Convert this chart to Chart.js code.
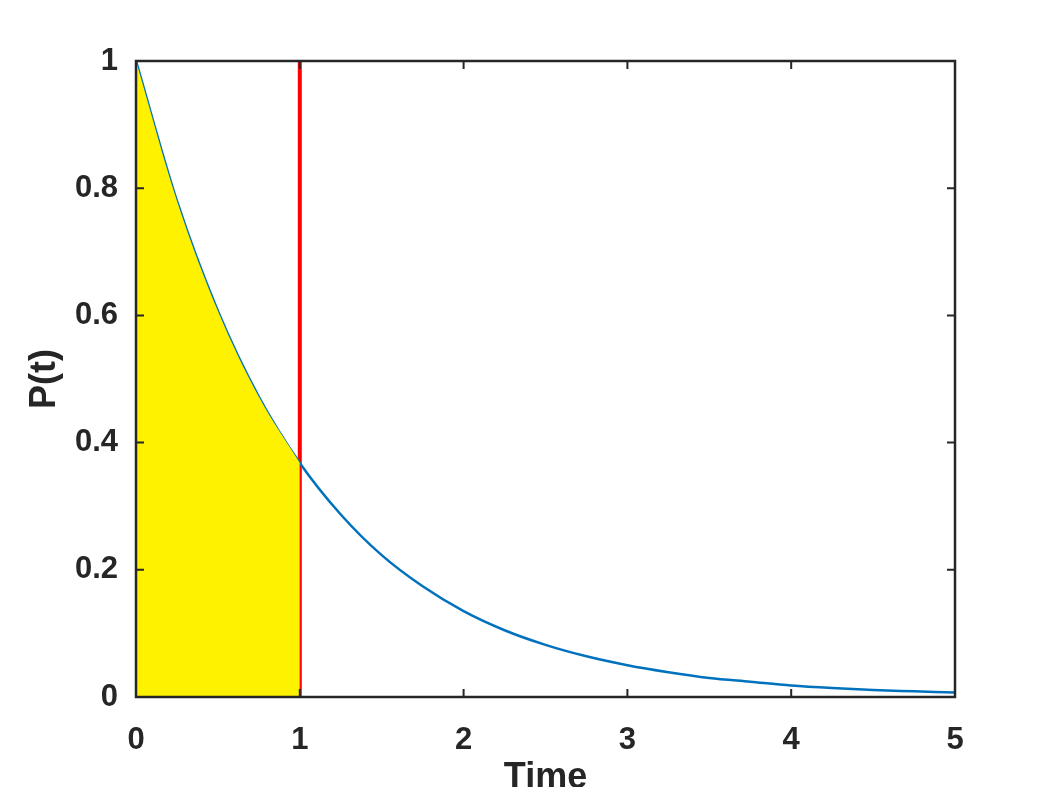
<!DOCTYPE html>
<html>
<head>
<meta charset="utf-8">
<script src="https://cdn.jsdelivr.net/npm/chart.js@4"></script>
<style>
  html, body { margin: 0; padding: 0; background: #fff; }
  #wrap { width: 1055px; height: 787px; }
</style>
</head>
<body>
<div id="wrap"><canvas id="myChart"></canvas></div>
<script>
// values
const timePoints = [0, 0.25, 0.5, 0.75, 1, 1.25, 1.5, 1.75, 2, 2.25, 2.5, 2.75, 3, 3.25, 3.5, 3.75, 4, 4.25, 4.5, 4.75, 5];
const probValues = [1, 0.78, 0.607, 0.472, 0.368, 0.287, 0.223, 0.174, 0.135, 0.105, 0.082, 0.064, 0.05, 0.039, 0.030, 0.024, 0.018, 0.014, 0.011, 0.009, 0.007];
const shadeEnd = 1;
const xTicks = [0, 1, 2, 3, 4, 5];
const yTicks = [0, 0.2, 0.4, 0.6, 0.8, 1];

const curve = timePoints.map((t, i) => ({ x: t, y: probValues[i] }));
const shaded = curve.filter(p => p.x <= shadeEnd);
const marker = [{ x: shadeEnd, y: 0 }, { x: shadeEnd, y: 1 }];

const font = 'Liberation Sans, Arial, Helvetica, sans-serif';
const ink = '#262626';

// MATLAB-like box with inward ticks
const boxPlugin = {
    id: 'box',
    afterDatasetsDraw(chart) {
        const { ctx, chartArea: a, scales } = chart;
        const len = 8;
        ctx.save();
        ctx.strokeStyle = ink;
        ctx.lineWidth = 2;
        ctx.beginPath();
        xTicks.forEach(v => {
            const px = scales.x.getPixelForValue(v);
            ctx.moveTo(px, a.bottom); ctx.lineTo(px, a.bottom - len);
            ctx.moveTo(px, a.top); ctx.lineTo(px, a.top + len);
        });
        yTicks.forEach(v => {
            const py = scales.y.getPixelForValue(v);
            ctx.moveTo(a.left, py); ctx.lineTo(a.left + len, py);
            ctx.moveTo(a.right, py); ctx.lineTo(a.right - len, py);
        });
        ctx.stroke();
        ctx.lineWidth = 2.5;
        ctx.strokeRect(a.left, a.top, a.right - a.left, a.bottom - a.top);
        ctx.restore();
    }
};

const ctx = document.getElementById('myChart').getContext('2d');
new Chart(ctx, {
    type: 'line',
    data: {
        datasets: [
            {
                data: shaded,
                borderWidth: 0,
                pointRadius: 0,
                backgroundColor: '#fff200',
                fill: 'origin',
                cubicInterpolationMode: 'monotone'
            },
            {
                data: curve,
                borderColor: '#0072bd',
                borderWidth: 2.5,
                pointRadius: 0,
                fill: false,
                cubicInterpolationMode: 'monotone'
            },
            {
                data: marker,
                borderColor: '#ff0000',
                borderWidth: 4,
                pointRadius: 0,
                fill: false
            }
        ]
    },
    options: {
        responsive: true,
        maintainAspectRatio: false,
        animation: false,
        layout: { padding: { top: 61, right: 100, left: 0, bottom: 0 } },
        plugins: { legend: { display: false }, tooltip: { enabled: false } },
        scales: {
            x: {
                type: 'linear',
                min: 0,
                max: 5,
                afterFit: s => { s.height = 90; },
                afterBuildTicks: s => { s.ticks = xTicks.map(v => ({ value: v })); },
                grid: { display: false, drawTicks: false },
                border: { display: false },
                ticks: { color: ink, padding: 25, font: { family: font, size: 31, weight: 'bold' } },
                title: {
                    display: true,
                    text: 'Time',
                    color: ink,
                    padding: { top: 0, bottom: -13 },
                    font: { family: font, size: 36, weight: 'bold' }
                }
            },
            y: {
                type: 'linear',
                min: 0,
                max: 1,
                afterFit: s => { s.width = 136; },
                afterBuildTicks: s => { s.ticks = yTicks.map(v => ({ value: v })); },
                grid: { display: false, drawTicks: false },
                border: { display: false },
                ticks: {
                    color: ink,
                    padding: 18,
                    font: { family: font, size: 31, weight: 'bold' },
                    callback: v => String(+v.toFixed(1))
                },
                title: {
                    display: true,
                    text: 'P(t)',
                    color: ink,
                    padding: { top: 23, bottom: 0 },
                    font: { family: font, size: 36, weight: 'bold' }
                }
            }
        }
    },
    plugins: [boxPlugin]
});
</script>
</body>
</html>
